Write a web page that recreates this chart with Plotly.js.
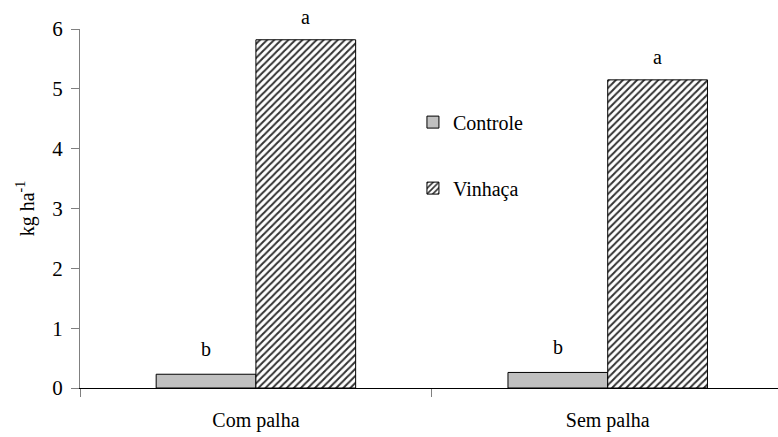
<!DOCTYPE html>
<html>
<head>
<meta charset="utf-8">
<script src="https://cdn.plot.ly/plotly-3.0.1.min.js"></script>
<style>html,body{margin:0;padding:0;background:#fff;}#chart{width:778px;height:437px;}</style>
</head>
<body>
<div id="chart"></div>
<script>
var categories = ['Com palha', 'Sem palha'];
var controleValues = [0.23, 0.26];
var vinhacaValues = [5.82, 5.15];
var controleLetters = ['b', 'b'];
var vinhacaLetters = ['a', 'a'];
var yTickVals = [0, 1, 2, 3, 4, 5, 6];

var serif = 'Liberation Serif';

var traces = [
  {
    type: 'bar', name: 'Controle', x: categories, y: controleValues,
    marker: {color: '#c0c0c0', line: {color: '#000', width: 1}},
    legendgroup: 'g1', hoverinfo: 'skip'
  },
  {
    type: 'bar', name: 'Vinhaça', x: categories, y: vinhacaValues,
    marker: {color: '#ffffff', line: {color: '#000', width: 1},
      pattern: {shape: '/', fgcolor: '#333', bgcolor: '#fff', size: 5, solidity: 0.4}},
    legendgroup: 'g2', hoverinfo: 'skip'
  }
];

var annotations = [];
categories.forEach(function (c, i) {
  annotations.push({x: c, y: controleValues[i], xref: 'x', yref: 'y', text: controleLetters[i],
    showarrow: false, xshift: -50, yanchor: 'bottom', yshift: 12, font: {family: serif, size: 20, color: '#000'}});
  annotations.push({x: c, y: vinhacaValues[i], xref: 'x', yref: 'y', text: vinhacaLetters[i],
    showarrow: false, xshift: 50, yanchor: 'bottom', yshift: 10, font: {family: serif, size: 20, color: '#000'}});
});

var layout = {
  width: 778, height: 437,
  margin: {l: 80, r: 0, t: 29, b: 49},
  paper_bgcolor: '#fff', plot_bgcolor: '#fff',
  barmode: 'group', bargap: 0.433, bargroupgap: 0,
  font: {family: serif, size: 20, color: '#000'},
  showlegend: true,
  legend: {x: 0.477, y: 0.795, xanchor: 'left', yanchor: 'top', bgcolor: 'rgba(0,0,0,0)',
    font: {family: serif, size: 20, color: '#000'}, tracegroupgap: 37, traceorder: 'grouped'},
  xaxis: {
    type: 'category', range: [-0.5, 1.484], showgrid: false, zeroline: false,
    showline: true, linecolor: '#000', linewidth: 1,
    tickson: 'boundaries', ticks: 'outside', ticklen: 8, tickcolor: '#808080',
    ticklabelstandoff: 14, tickfont: {family: serif, size: 20, color: '#000'}
  },
  yaxis: {
    range: [0, 6], tickvals: yTickVals, showgrid: false, zeroline: false,
    showline: true, linecolor: '#808080', linewidth: 1,
    ticks: 'outside', ticklen: 8, tickcolor: '#808080',
    tickfont: {family: serif, size: 21, color: '#000'}, ticklabelstandoff: 4,
    title: {text: 'kg ha<sup>-1</sup>', font: {family: serif, size: 20, color: '#000'}, standoff: 12}
  },
  annotations: annotations
};

Plotly.newPlot('chart', traces, layout, {displayModeBar: false, staticPlot: true});
</script>
</body>
</html>
